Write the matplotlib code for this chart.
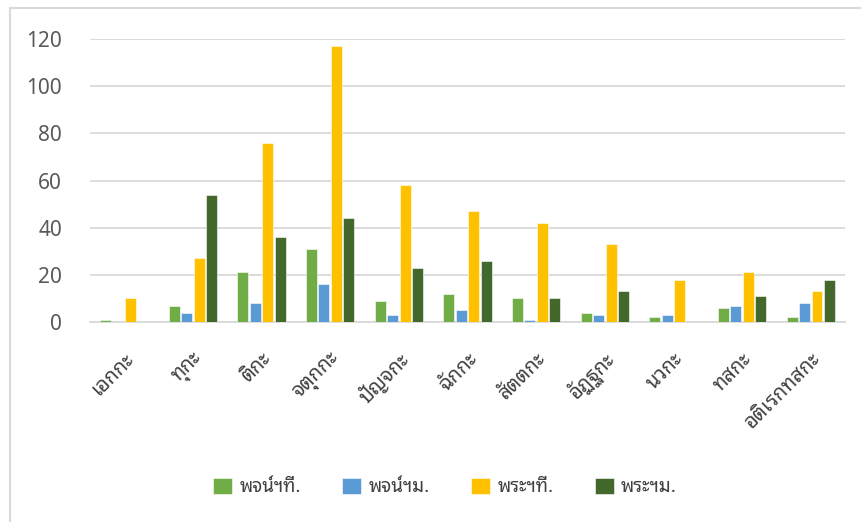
import numpy as np
import matplotlib
matplotlib.use("Agg")
import matplotlib.pyplot as plt
from matplotlib.lines import Line2D

plt.rcParams['font.family'] = ['Noto Sans Thai Looped', 'DejaVu Sans']

# data
categories = ['เอกกะ', 'ทุกะ', 'ติกะ', 'จตุกกะ', 'ปัญจกะ', 'ฉักกะ',
              'สัตตกะ', 'อัฏฐกะ', 'นวกะ', 'ทสกะ', 'อติเรกทสกะ']
series_names = ['พจน์ฯที.', 'พจน์ฯม.', 'พระฯที.', 'พระฯม.']
pjn_ti = [1, 7, 21, 31, 9, 12, 10, 4, 2, 6, 2]
pjn_m = [0, 4, 8, 16, 3, 5, 1, 3, 3, 7, 8]
pra_ti = [10, 27, 76, 117, 58, 47, 42, 33, 18, 21, 13]
pra_m = [0, 54, 36, 44, 23, 26, 10, 13, 0, 11, 18]
yticks = [0, 20, 40, 60, 80, 100, 120]

colors = ['#70AD47', '#5B9BD5', '#FFC000', '#43682B']
series = [pjn_ti, pjn_m, pra_ti, pra_m]

fig = plt.figure(figsize=(8.61, 5.22), dpi=100)
ax = fig.add_axes([0.1045, 0.3831, 0.877, 0.5422])

x = np.arange(len(categories))
slot = 0.182
width = 0.16
for i, (vals, name, c) in enumerate(zip(series, series_names, colors)):
    ax.bar(x + (i - 1.5) * slot, vals, width, color=c, label=name,
           edgecolor='white', linewidth=0.4, zorder=3)

ax.set_xlim(-0.5, len(categories) - 0.5)
ax.set_ylim(0, 120)
ax.set_yticks(yticks)
ax.yaxis.grid(True, color='#D9D9D9', linewidth=1.3, zorder=0)
ax.set_axisbelow(True)
for s in ['top', 'right', 'left']:
    ax.spines[s].set_visible(False)
ax.spines['bottom'].set_color('#D9D9D9')
ax.spines['bottom'].set_linewidth(1.3)

ax.tick_params(axis='y', length=0, pad=20, labelsize=15, labelcolor='#595959')
ax.tick_params(axis='x', length=0)
ax.set_xticks(x)
ax.set_xticklabels([])
for xi, lab in zip(x, categories):
    ax.annotate(lab, xy=(xi, 0), xycoords='data', xytext=(7, -34),
                textcoords='offset pixels', rotation=45, rotation_mode='anchor',
                ha='right', va='center', fontsize=14.5, color='#404040')

leg = fig.legend(loc='center', bbox_to_anchor=(0.517, 0.067), ncol=4,
                 frameon=False, fontsize=13.5, handlelength=1.0, handleheight=0.95,
                 handletextpad=0.4, columnspacing=2.2)
for t in leg.get_texts():
    t.set_color('#404040')

# frame lines seen at the top and left of the image
fig.add_artist(Line2D([10 / 861, 1], [1 - 8 / 522, 1 - 8 / 522],
                      transform=fig.transFigure, color='#D9D9D9', linewidth=1.5))
fig.add_artist(Line2D([10 / 861, 10 / 861], [0, 1 - 8 / 522],
                      transform=fig.transFigure, color='#D9D9D9', linewidth=1.5))

fig.savefig('out.png', dpi=100)
